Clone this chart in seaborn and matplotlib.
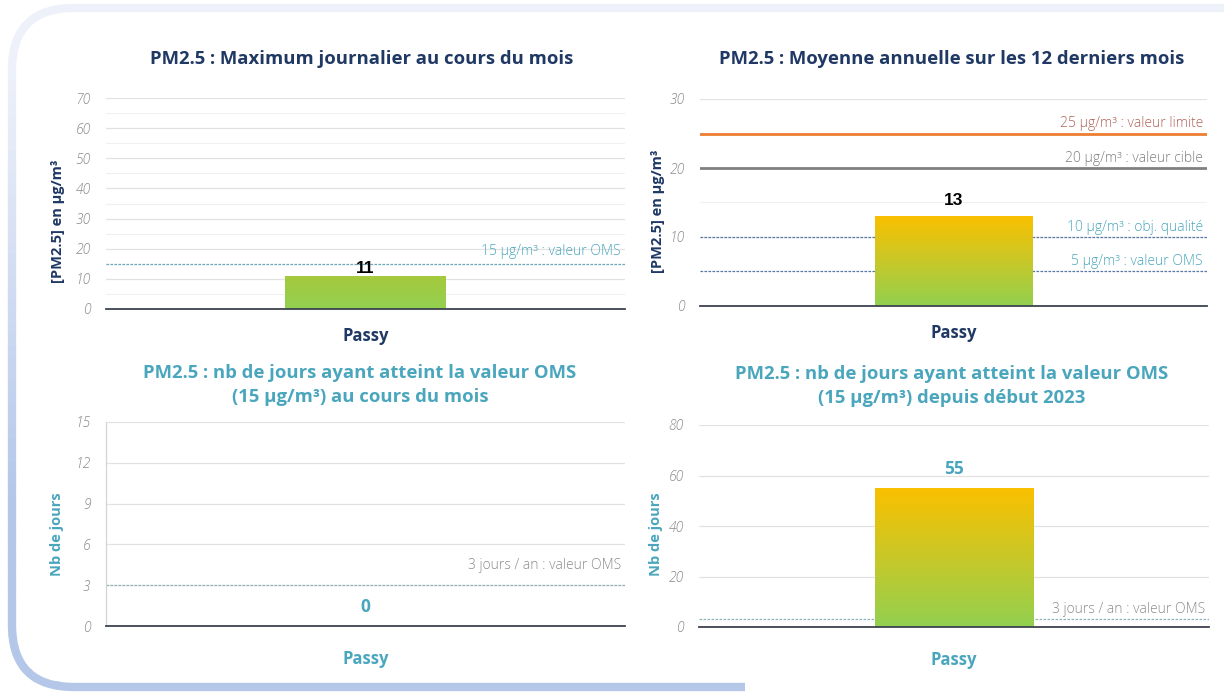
import numpy as np
import pandas as pd
import matplotlib
matplotlib.use("Agg")
import matplotlib.pyplot as plt
import seaborn as sns
from matplotlib.patches import FancyBboxPatch, Rectangle
from matplotlib.colors import LinearSegmentedColormap, to_rgb

# ---------------- data ----------------
stations = ["Passy"]
max_journalier = [11]          # µg/m3, max journalier du mois
moyenne_annuelle = [13]        # µg/m3, moyenne 12 derniers mois
jours_oms_mois = [0]           # nb de jours >= 15 µg/m3 ce mois
jours_oms_annee = [55]         # nb de jours >= 15 µg/m3 depuis début 2023

seuils_max = [15]
seuils_max_labels = ["15 µg/m³ : valeur OMS"]
seuils_moy = [25, 20, 10, 5]
seuils_moy_labels = ["25 µg/m³ : valeur limite", "20 µg/m³ : valeur cible",
                     "10 µg/m³ : obj. qualité", "5 µg/m³ : valeur OMS"]
seuils_jours = [3]
seuils_jours_labels = ["3 jours / an : valeur OMS"]

titles = ["PM2.5 : Maximum journalier au cours du mois",
          "PM2.5 : Moyenne annuelle sur les 12 derniers mois",
          "PM2.5 : nb de jours ayant atteint la valeur OMS\n(15 µg/m³) au cours du mois",
          "PM2.5 : nb de jours ayant atteint la valeur OMS\n(15 µg/m³) depuis début 2023"]
ylabels = ["[PM2.5] en µg/m³", "[PM2.5] en µg/m³", "Nb de jours", "Nb de jours"]

# ---------------- style ----------------
sns.set_theme(style="white")
plt.rcParams['font.family'] = ['Open Sans', 'DejaVu Sans']

W, H = 1224, 693
fig = plt.figure(figsize=(W / 100, H / 100), dpi=100)
fig.patch.set_facecolor("white")

NAVY = "#1f3864"
TEAL = "#4aa6bd"
TICK = "#8a8a8a"
GRID = "#e2e2e2"
AXLINE = "#3b4350"

# background frame (pixel coordinates), colour fading from top to bottom
bg = fig.add_axes([0, 0, 1, 1], zorder=-5)
bg.set_xlim(0, W)
bg.set_ylim(H, 0)
bg.axis("off")
c_faint = np.array(to_rgb("#eef1f9"))
c_strong = np.array(to_rgb("#b4c7e9"))
nb = 60
edges = np.linspace(0, H, nb + 1)
for i in range(nb):
    y0, y1 = edges[i], edges[i + 1]
    t = np.clip(((y0 + y1) / 2 - 70) / 430, 0, 1)
    col = c_faint + (c_strong - c_faint) * t
    xmax = 745 if y1 > 620 else W + 10
    p = FancyBboxPatch((12, 8), 1400, 679, boxstyle="round,pad=0,rounding_size=62",
                       fill=False, edgecolor=col, lw=6)
    bg.add_patch(p)
    p.set_clip_path(Rectangle((0, y0 - 0.5), xmax, y1 - y0 + 1, transform=bg.transData))


def px_axes(left, right, top, bottom):
    return fig.add_axes([left / W, 1 - bottom / H, (right - left) / W, (bottom - top) / H])


def ftext(x, y, s, **kw):
    fig.text(x / W, 1 - y / H, s, **kw)


grad_warm = LinearSegmentedColormap.from_list("warm", ["#92d050", "#c8c828", "#fac000"])
grad_green = LinearSegmentedColormap.from_list("green", ["#92d050", "#a6c93c"])


def draw(ax, values, ymax, step, minor, cmap, val_color, val_font, val_pad,
         seuils, seuil_labels, seuil_styles, label_colors, label_offsets,
         xcolor, xpad, left_spine):
    df = pd.DataFrame({"station": stations, "valeur": values})
    sns.barplot(data=df, x="station", y="valeur", ax=ax, width=0.31,
                color="#92d050", saturation=1, zorder=3)
    for p in ax.patches:
        x0, w, h = p.get_x(), p.get_width(), p.get_height()
        if h > 0:
            grad = np.linspace(0, 1, 256).reshape(-1, 1)
            im = ax.imshow(grad, extent=[x0, x0 + w, 0, h], origin="lower",
                           aspect="auto", cmap=cmap, zorder=3)
            im.set_clip_path(p)
            p.set_facecolor("none")
        p.set_edgecolor("none")
    ax.set_xlim(-0.5, 0.5)
    ax.set_ylim(0, ymax)
    ax.set_yticks(np.arange(0, ymax + 0.01, step))
    for yv in np.arange(step, ymax + 0.01, step):
        ax.axhline(yv, color=GRID, lw=0.9, zorder=1)
    if minor:
        for yv in np.arange(minor, ymax, step):
            ax.axhline(yv, color="#f0f0f0", lw=0.8, zorder=1)
    for yv, lab, st, lc, off in zip(seuils, seuil_labels, seuil_styles, label_colors, label_offsets):
        ax.axhline(yv, zorder=2, **st)
        ax.annotate(lab, xy=(1, yv), xycoords=("axes fraction", "data"),
                    xytext=(-3, off), textcoords="offset points",
                    ha="right", va="center", fontsize=10, color=lc, fontweight="light")
    ax.bar_label(ax.containers[0], labels=[str(v) for v in values], padding=val_pad,
                 fontsize=12.5, fontweight="bold", color=val_color, family=val_font, zorder=5)
    for s in ["top", "right"]:
        ax.spines[s].set_visible(False)
    ax.spines["left"].set_visible(left_spine)
    ax.spines["left"].set_color("#d4d4d4")
    ax.spines["left"].set_linewidth(0.9)
    ax.spines["bottom"].set_color(AXLINE)
    ax.spines["bottom"].set_linewidth(1.3)
    ax.spines["bottom"].set_zorder(6)
    ax.tick_params(axis="y", length=0, pad=11, labelsize=10, labelcolor=TICK)
    ax.tick_params(axis="x", length=0, pad=xpad, labelsize=12, labelcolor=xcolor)
    for t in ax.get_yticklabels():
        t.set_fontstyle("italic")
        t.set_fontweight("light")
    for t in ax.get_xticklabels():
        t.set_fontweight("bold")
    ax.set_xlabel("")
    ax.set_facecolor("none")


dash_teal = dict(color="#6aaabb", lw=0.9, ls=(0, (2, 1.2)))
dash_navy = dict(color="#5878a8", lw=0.9, ls=(0, (2, 1.2)))
dash_gray = dict(color="#8fb1ba", lw=0.9, ls=(0, (2, 1.2)))

# --- top left
ax1 = px_axes(106, 625, 98, 309)
draw(ax1, max_journalier, 70, 10, 5, grad_green, "black", "Liberation Sans", 0,
     seuils_max, seuils_max_labels, [dash_teal], [TEAL], [9],
     NAVY, 13, False)
# --- top right
ax2 = px_axes(700, 1207, 99, 306)
draw(ax2, moyenne_annuelle, 30, 10, 5, grad_warm, "black", "Liberation Sans", 6,
     seuils_moy, seuils_moy_labels,
     [dict(color="#ed7d31", lw=2), dict(color="#808080", lw=2), dash_navy, dash_navy],
     ["#b06458", "#808080", TEAL, TEAL], [7, 7, 7, 7],
     NAVY, 13, False)
# --- bottom left
ax3 = px_axes(106, 625, 422, 626)
draw(ax3, jours_oms_mois, 15, 3, 0, grad_warm, TEAL, "Open Sans", 7,
     seuils_jours, seuils_jours_labels, [dash_gray], ["#8c8c8c"], [14],
     TEAL, 17, True)
# --- bottom right
ax4 = px_axes(699, 1209, 425, 627)
draw(ax4, jours_oms_annee, 80, 20, 0, grad_warm, TEAL, "Open Sans", 7,
     seuils_jours, seuils_jours_labels, [dash_gray], ["#8c8c8c"], [7],
     TEAL, 17, False)

axes = [ax1, ax2, ax3, ax4]
ylab_pos = [(58, 221), (658, 211), (57, 534), (656, 534)]
ylab_col = [NAVY, NAVY, TEAL, TEAL]
for ax, lab, (px, py), col in zip(axes, ylabels, ylab_pos, ylab_col):
    ax.set_ylabel(lab, fontsize=10.5, fontweight="bold", color=col)
    bb = ax.get_position()
    ax.yaxis.label.set_va("center")
    xf = (px / W - bb.x0) / bb.width
    yf = ((1 - py / H) - bb.y0) / bb.height
    ax.yaxis.set_label_coords(xf, yf)

ftext(362, 59, titles[0], ha="center", va="center", fontsize=13.3, fontweight="bold", color=NAVY)
ftext(952, 59, titles[1], ha="center", va="center", fontsize=13.3, fontweight="bold", color=NAVY)
ftext(360, 385, titles[2], ha="center", va="center", fontsize=13.3, fontweight="bold",
      color=TEAL, linespacing=1.45)
ftext(952, 386, titles[3], ha="center", va="center", fontsize=13.3, fontweight="bold",
      color=TEAL, linespacing=1.45)

fig.savefig("out.png", dpi=100, facecolor="white")
